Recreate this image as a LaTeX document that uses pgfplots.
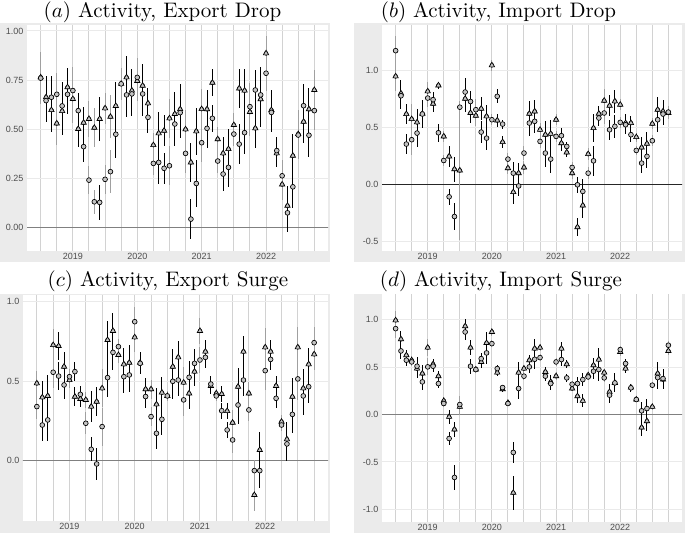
\documentclass[border=0pt]{standalone}
\usepackage{fontspec}
\usepackage{pgfplots}
\pgfplotsset{compat=1.18}
\usepackage{pgfplotstable}
\newfontfamily\tickfont{Liberation Sans}
\definecolor{bggray}{HTML}{EBEBEB}
\definecolor{vgrid}{HTML}{D2D2D2}
\definecolor{hgrid}{HTML}{EAEAEA}
\definecolor{ticktext}{HTML}{4D4D4D}
\definecolor{ptfill}{HTML}{C4C4C4}
\definecolor{bargray}{HTML}{A0A0A0}

% m = months since Jan 2019; c = circle; t = triangle; ec, et = half widths; g = 1 for grey bars
\pgfplotstableread{
m c t ec et g
-6 0.760 0.764 0.13 0.13 1
-5 0.646 0.663 0.11 0.11 0
-4 0.663 0.598 0.11 0.11 0
-3 0.678 0.530 0.11 0.11 1
-2 0.619 0.593 0.12 0.12 0
-1 0.678 0.714 0.10 0.10 0
0 0.697 0.654 0.12 0.12 1
1 0.595 0.502 0.09 0.09 0
2 0.412 0.534 0.08 0.08 0
3 0.242 0.553 0.07 0.09 1
4 0.132 0.508 0.06 0.10 1
5 0.129 0.553 0.09 0.11 0
6 0.246 0.607 0.075 0.08 1
7 0.285 0.564 0.11 0.11 1
8 0.475 0.619 0.12 0.12 0
9 0.731 0.731 0.08 0.08 1
10 0.675 0.764 0.11 0.11 0
11 0.680 0.697 0.11 0.11 0
12 0.764 0.746 0.10 0.10 1
13 0.680 0.722 0.11 0.11 0
14 0.561 0.632 0.08 0.08 0
15 0.327 0.420 0.06 0.06 1
16 0.332 0.480 0.11 0.11 0
17 0.302 0.493 0.08 0.08 0
18 0.315 0.556 0.10 0.10 1
19 0.527 0.578 0.11 0.11 0
20 0.585 0.602 0.13 0.13 0
21 0.378 0.500 0.10 0.10 1
22 0.044 0.332 0.10 0.10 0
23 0.225 0.490 0.12 0.12 0
24 0.432 0.603 0.10 0.10 1
25 0.505 0.602 0.10 0.10 0
26 0.556 0.737 0.07 0.07 0
27 0.339 0.450 0.06 0.06 1
28 0.273 0.378 0.085 0.085 0
29 0.307 0.400 0.10 0.10 0
30 0.476 0.522 0.06 0.06 1
31 0.425 0.708 0.10 0.10 0
32 0.483 0.697 0.11 0.11 0
33 0.615 0.588 0.12 0.12 1
34 0.700 0.505 0.10 0.10 0
35 0.675 0.653 0.14 0.14 0
36 0.785 0.886 0.09 0.09 1
37 0.586 0.598 0.10 0.10 0
38 0.392 0.378 0.07 0.07 0
39 0.264 0.220 0.08 0.08 1
40 0.076 0.112 0.10 0.10 0
41 0.208 0.366 0.11 0.11 0
42 0.471 0.476 0.12 0.12 1
43 0.620 0.539 0.11 0.11 0
44 0.470 0.602 0.11 0.11 0
45 0.595 0.700 0.10 0.10 1
}\dataA

\pgfplotstableread{
m c t ec et g
-6 1.175 0.950 0.13 0.13 1
-5 0.780 0.800 0.12 0.12 0
-4 0.357 0.620 0.09 0.09 0
-3 0.395 0.576 0.13 0.13 1
-2 0.453 0.547 0.12 0.12 0
-1 0.620 0.623 0.12 0.12 0
0 0.760 0.819 0.08 0.08 1
1 0.746 0.710 0.07 0.07 0
2 0.456 0.871 0.08 0.03 0
3 0.213 0.424 0.05 0.05 1
4 -0.105 0.249 0.07 0.09 0
5 -0.278 0.137 0.12 0.11 0
6 0.680 0.126 0.05 0.61 1
7 0.813 0.754 0.12 0.12 0
8 0.730 0.630 0.09 0.09 0
9 0.658 0.605 0.09 0.09 1
10 0.462 0.667 0.10 0.10 0
11 0.409 0.600 0.10 0.10 0
12 0.570 1.047 0.05 0.05 1
13 0.775 0.564 0.06 0.06 0
14 0.532 0.374 0.04 0.05 0
15 0.225 0.146 0.05 0.05 1
16 0.102 -0.064 0.10 0.10 0
17 -0.010 0.102 0.09 0.09 0
18 0.278 0.152 0.06 0.06 1
19 0.541 0.623 0.11 0.11 0
20 0.556 0.643 0.10 0.10 0
21 0.380 0.482 0.06 0.06 1
22 0.278 0.439 0.12 0.12 0
23 0.225 0.447 0.12 0.12 0
24 0.424 0.570 0.05 0.05 1
25 0.430 0.365 0.07 0.07 0
26 0.336 0.284 0.04 0.04 0
27 0.152 0.102 0.05 0.05 1
28 0.000 -0.371 0.07 0.08 0
29 -0.058 -0.181 0.11 0.11 0
30 0.102 0.269 0.05 0.05 1
31 0.210 0.497 0.13 0.12 0
32 0.585 0.623 0.07 0.07 0
33 0.629 0.737 0.10 0.10 1
34 0.482 0.693 0.09 0.09 0
35 0.512 0.731 0.10 0.10 0
36 0.547 0.702 0.05 0.05 1
37 0.526 0.541 0.08 0.08 0
38 0.439 0.541 0.06 0.06 0
39 0.301 0.418 0.04 0.04 1
40 0.190 0.327 0.09 0.09 0
41 0.249 0.360 0.10 0.10 0
42 0.386 0.535 0.05 0.05 1
43 0.570 0.658 0.11 0.11 0
44 0.620 0.643 0.10 0.10 0
45 0.637 0.629 0.05 0.05 1
}\dataB

\pgfplotstableread{
m c t ec et g
-6 0.340 0.486 0.08 0.08 1
-5 0.224 0.398 0.10 0.10 0
-4 0.256 0.407 0.13 0.13 0
-3 0.556 0.727 0.10 0.10 1
-2 0.532 0.721 0.09 0.09 0
-1 0.476 0.591 0.09 0.09 0
0 0.528 0.507 0.05 0.05 1
1 0.560 0.402 0.06 0.06 0
2 0.417 0.388 0.05 0.05 0
3 0.235 0.382 0.07 0.05 1
4 0.071 0.340 0.075 0.10 0
5 -0.021 0.371 0.10 0.09 0
6 0.214 0.455 0.12 0.12 1
7 0.522 0.759 0.12 0.12 0
8 0.681 0.816 0.11 0.11 0
9 0.717 0.665 0.05 0.05 1
10 0.528 0.606 0.10 0.10 0
11 0.539 0.616 0.11 0.11 0
12 0.874 0.776 0.09 0.09 1
13 0.612 0.616 0.07 0.07 0
14 0.403 0.449 0.07 0.07 0
15 0.277 0.449 0.06 0.06 1
16 0.172 0.354 0.10 0.10 0
17 0.260 0.428 0.10 0.10 0
18 0.407 0.407 0.03 0.03 1
19 0.499 0.591 0.11 0.11 0
20 0.507 0.650 0.10 0.10 0
21 0.382 0.491 0.10 0.10 1
22 0.524 0.423 0.10 0.10 0
23 0.612 0.560 0.09 0.09 0
24 0.633 0.816 0.08 0.08 1
25 0.650 0.686 0.07 0.07 0
26 0.482 0.470 0.05 0.05 0
27 0.407 0.423 0.03 0.03 1
28 0.314 0.419 0.05 0.05 0
29 0.193 0.312 0.05 0.05 0
30 0.130 0.239 0.08 0.08 1
31 0.350 0.465 0.12 0.12 0
32 0.507 0.686 0.10 0.10 0
33 0.319 0.423 0.07 0.07 1
34 -0.063 -0.216 0.07 0.10 1
35 -0.063 0.067 0.11 0.11 0
36 0.566 0.713 0.12 0.12 1
37 0.637 0.686 0.07 0.07 0
38 0.392 0.470 0.06 0.06 0
39 0.224 0.245 0.04 0.04 1
40 0.105 0.134 0.11 0.11 0
41 0.291 0.402 0.12 0.12 0
42 0.514 0.713 0.13 0.13 1
43 0.407 0.455 0.12 0.12 0
44 0.465 0.606 0.10 0.10 0
45 0.742 0.669 0.10 0.10 1
}\dataC

\pgfplotstableread{
m c t ec et g
-6 0.905 0.993 0.10 0.10 1
-5 0.670 0.793 0.09 0.09 0
-4 0.572 0.625 0.06 0.06 0
-3 0.554 0.572 0.04 0.04 1
-2 0.509 0.484 0.10 0.10 0
-1 0.344 0.432 0.09 0.09 0
0 0.502 0.705 0.09 0.09 1
1 0.509 0.530 0.06 0.06 0
2 0.326 0.404 0.05 0.05 0
3 0.116 0.144 0.04 0.04 1
4 -0.253 -0.025 0.07 0.07 0
5 -0.663 -0.158 0.13 0.08 0
6 0.105 0.081 0.09 0.09 1
7 0.870 0.930 0.08 0.08 0
8 0.509 0.705 0.08 0.08 0
9 0.474 0.474 0.04 0.04 1
10 0.589 0.554 0.06 0.06 0
11 0.649 0.754 0.12 0.12 0
12 0.747 0.870 0.04 0.04 1
13 0.484 0.442 0.04 0.04 0
14 0.284 0.267 0.03 0.03 0
15 0.116 0.123 0.03 0.03 1
16 -0.400 -0.825 0.11 0.18 0
17 0.274 0.442 0.11 0.11 0
18 0.404 0.484 0.04 0.04 1
19 0.502 0.572 0.06 0.06 0
20 0.582 0.695 0.10 0.10 0
21 0.600 0.705 0.04 0.04 1
22 0.404 0.449 0.05 0.05 0
23 0.326 0.344 0.07 0.07 0
24 0.554 0.404 0.04 0.04 1
25 0.579 0.695 0.07 0.07 0
26 0.386 0.530 0.04 0.04 0
27 0.319 0.274 0.03 0.03 1
28 0.326 0.193 0.07 0.07 0
29 0.368 0.144 0.07 0.07 0
30 0.396 0.414 0.03 0.03 1
31 0.456 0.519 0.08 0.08 0
32 0.474 0.579 0.12 0.12 0
33 0.386 0.442 0.04 0.04 1
34 0.204 0.239 0.08 0.08 0
35 0.333 0.333 0.10 0.10 0
36 0.684 0.660 0.04 0.04 1
37 0.537 0.484 0.05 0.05 0
38 0.281 0.284 0.04 0.04 0
39 0.158 0.158 0.03 0.03 1
40 0.039 -0.137 0.09 0.09 0
41 0.063 -0.070 0.10 0.10 0
42 0.309 0.081 0.03 0.03 1
43 0.389 0.432 0.12 0.12 0
44 0.379 0.368 0.10 0.10 0
45 0.730 0.670 0.04 0.04 1
}\dataD

\pgfplotsset{
  panel/.style={
    scale only axis, anchor=north west,
    xmin=-8.55, xmax=47.55,
    axis line style={draw=none},
    major tick length=0pt, minor tick length=0pt,
    xtick={0,12,24,36}, xticklabels={2019,2020,2021,2022},
    minor xtick={-6,-3,3,6,9,15,18,21,27,30,33,39,42,45},
    xmajorgrids, xminorgrids, ymajorgrids,
    major x grid style={draw=vgrid, line width=1pt},
    minor x grid style={draw=vgrid, line width=1pt},
    major y grid style={draw=hgrid, line width=1pt},
    tick label style={font=\tickfont\fontsize{9}{10}\selectfont, text=ticktext},
    xticklabel style={inner sep=0pt, anchor=north, yshift=-2.5pt},
    yticklabel style={inner sep=0pt, anchor=east, xshift=-3.5pt},
    axis background/.style={fill=white},
  },
  ebar/.style={only marks, mark=none,
    error bars/y dir=both, error bars/y explicit, error bars/error mark=none,
    error bars/error bar style={line width=1pt, draw=#1}},
  circ/.style={only marks, mark=*, mark size=2.4pt,
    mark options={fill=ptfill, draw=black, line width=0.65pt}},
  tri/.style={only marks, mark=triangle*, mark size=3.1pt,
    mark options={fill=ptfill, draw=black, line width=0.65pt}},
}

\newcommand\panelplots[2]{%
  \addplot[#2, line width=1.3pt] coordinates {(-10,0) (50,0)};
  \addplot[ebar=bargray, restrict expr to domain={\thisrow{g}}{1:1}] table[x=m, y=t, y error=et] {#1};
  \addplot[ebar=bargray, restrict expr to domain={\thisrow{g}}{1:1}] table[x=m, y=c, y error=ec] {#1};
  \addplot[ebar=black, restrict expr to domain={\thisrow{g}}{0:0}] table[x=m, y=t, y error=et] {#1};
  \addplot[ebar=black, restrict expr to domain={\thisrow{g}}{0:0}] table[x=m, y=c, y error=ec] {#1};
  \addplot[tri] table[x=m, y=t] {#1};
  \addplot[circ] table[x=m, y=c] {#1};
}

\begin{document}
\begin{tikzpicture}
\fill[bggray] (0pt,-22.5pt) rectangle (329.5pt,-261.5pt);
\fill[bggray] (354.3pt,-22.5pt) rectangle (685pt,-261.5pt);
\fill[bggray] (0pt,-293.5pt) rectangle (329.5pt,-533pt);
\fill[bggray] (354.3pt,-293.5pt) rectangle (685pt,-533pt);

\tikzset{ttl/.style={scale=2.1, font=\fontsize{10}{12}\selectfont, inner sep=0pt}}
\node[ttl] at (162.5pt,-12.5pt) {$(a)$ Activity, Export Drop};
\node[ttl] at (498.5pt,-12pt) {$(b)$ Activity, Import Drop};
\node[ttl] at (168pt,-281pt) {$(c)$ Activity, Export Surge};
\node[ttl] at (501pt,-281pt) {$(d)$ Activity, Import Surge};

\begin{axis}[panel, at={(27pt,-25pt)}, width=301pt, height=226pt,
  ymin=-0.118, ymax=1.03, ytick={0,0.25,0.5,0.75,1},
  yticklabels={0.00,0.25,0.50,0.75,1.00}]
\panelplots{\dataA}{black!50}
\end{axis}

\begin{axis}[panel, at={(382pt,-25pt)}, width=300pt, height=226pt,
  ymin=-0.58, ymax=1.40, ytick={-0.5,0,0.5,1},
  yticklabels={-0.5,0.0,0.5,1.0}]
\panelplots{\dataB}{black!85}
\end{axis}

\begin{axis}[panel, at={(23pt,-295pt)}, width=305pt, height=226pt,
  ymin=-0.38, ymax=1.042, ytick={0,0.5,1},
  yticklabels={0.0,0.5,1.0}]
\panelplots{\dataC}{black!50}
\end{axis}

\begin{axis}[panel, at={(382pt,-294pt)}, width=300pt, height=227.7pt,
  ymin=-1.13, ymax=1.27, ytick={-1,-0.5,0,0.5,1},
  yticklabels={-1.0,-0.5,0.0,0.5,1.0}]
\panelplots{\dataD}{black!50}
\end{axis}

\pgfresetboundingbox
\useasboundingbox (0pt,0pt) rectangle (685pt,-533pt);
\end{tikzpicture}
\end{document}
